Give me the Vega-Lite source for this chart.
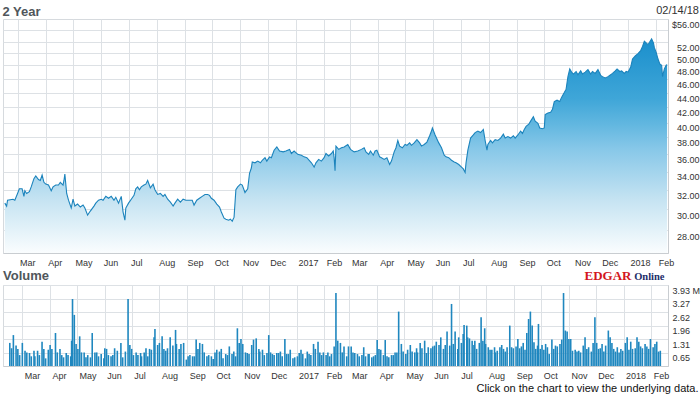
{
"$schema": "https://vega.github.io/schema/vega-lite/v6.json",
"background": "white",
"padding": {"left": 2, "top": 4, "right": 0, "bottom": 0},
"config": {
  "font": "Liberation Sans",
  "view": {"stroke": "#d6dade", "strokeWidth": 1},
  "axis": {"labelFont": "Liberation Sans", "labelFontSize": 9, "labelColor": "#333333", "gridColor": "#dde1e5", "gridOpacity": 1, "domainColor": "#c9cdd1", "ticks": false, "title": null, "labelOverlap": false},
  "title": {"font": "Liberation Sans"}
},
"title": {"text": "2 Year", "anchor": "start", "fontSize": 13, "fontWeight": "bold", "color": "#50565b", "dy": 14, "offset": 0},
"spacing": 0,
"datasets": {
"price": [
{"date":"2016-02-16","close":31.2},{"date":"2016-02-18","close":30.9},{"date":"2016-02-19","close":31.5},{"date":"2016-02-25","close":31.6},{"date":"2016-02-27","close":31.5},
{"date":"2016-03-01","close":32.2},{"date":"2016-03-03","close":32.7},{"date":"2016-03-06","close":32.7},{"date":"2016-03-08","close":31.9},{"date":"2016-03-09","close":32.5},{"date":"2016-03-11","close":32.2},{"date":"2016-03-14","close":32.4},{"date":"2016-03-16","close":32.9},{"date":"2016-03-19","close":33.8},{"date":"2016-03-21","close":34.1},{"date":"2016-03-24","close":33.7},{"date":"2016-03-26","close":33.6},{"date":"2016-03-28","close":34.2},{"date":"2016-03-30","close":33.4},
{"date":"2016-04-01","close":33.2},{"date":"2016-04-04","close":33.1},{"date":"2016-04-07","close":32.5},{"date":"2016-04-09","close":32.9},{"date":"2016-04-12","close":33.1},{"date":"2016-04-15","close":33.1},{"date":"2016-04-17","close":33.4},{"date":"2016-04-20","close":33.1},{"date":"2016-04-21","close":33.6},{"date":"2016-04-22","close":34.3},{"date":"2016-04-24","close":32.2},{"date":"2016-04-26","close":31.5},{"date":"2016-04-29","close":30.7},
{"date":"2016-05-01","close":31.6},{"date":"2016-05-03","close":30.9},{"date":"2016-05-06","close":31.1},{"date":"2016-05-09","close":30.8},{"date":"2016-05-12","close":31.0},{"date":"2016-05-14","close":30.7},{"date":"2016-05-17","close":30.0},{"date":"2016-05-20","close":30.4},{"date":"2016-05-24","close":30.9},{"date":"2016-05-26","close":31.2},{"date":"2016-05-29","close":31.5},
{"date":"2016-06-01","close":31.6},{"date":"2016-06-03","close":31.5},{"date":"2016-06-06","close":31.9},{"date":"2016-06-09","close":31.7},{"date":"2016-06-12","close":31.9},{"date":"2016-06-15","close":31.5},{"date":"2016-06-17","close":31.8},{"date":"2016-06-20","close":31.2},{"date":"2016-06-23","close":31.9},{"date":"2016-06-25","close":30.3},{"date":"2016-06-27","close":29.5},{"date":"2016-06-28","close":30.7},
{"date":"2016-07-01","close":31.2},{"date":"2016-07-04","close":31.6},{"date":"2016-07-07","close":32.0},{"date":"2016-07-09","close":32.7},{"date":"2016-07-11","close":32.9},{"date":"2016-07-13","close":32.6},{"date":"2016-07-15","close":32.9},{"date":"2016-07-18","close":33.1},{"date":"2016-07-20","close":33.2},{"date":"2016-07-22","close":33.6},{"date":"2016-07-25","close":32.8},{"date":"2016-07-28","close":33.2},{"date":"2016-07-30","close":32.6},
{"date":"2016-08-02","close":32.1},{"date":"2016-08-05","close":32.2},{"date":"2016-08-08","close":31.9},{"date":"2016-08-10","close":32.1},{"date":"2016-08-13","close":31.6},{"date":"2016-08-16","close":31.3},{"date":"2016-08-19","close":30.9},{"date":"2016-08-21","close":31.2},{"date":"2016-08-24","close":31.6},{"date":"2016-08-27","close":31.3},{"date":"2016-08-30","close":31.6},
{"date":"2016-09-02","close":31.5},{"date":"2016-09-06","close":31.5},{"date":"2016-09-09","close":31.5},{"date":"2016-09-11","close":31.0},{"date":"2016-09-14","close":31.5},{"date":"2016-09-17","close":31.7},{"date":"2016-09-20","close":31.9},{"date":"2016-09-23","close":32.1},{"date":"2016-09-26","close":32.1},{"date":"2016-09-28","close":32.0},{"date":"2016-09-30","close":31.7},
{"date":"2016-10-03","close":31.5},{"date":"2016-10-06","close":31.1},{"date":"2016-10-09","close":30.8},{"date":"2016-10-11","close":30.3},{"date":"2016-10-14","close":29.7},{"date":"2016-10-16","close":29.6},{"date":"2016-10-19","close":29.5},{"date":"2016-10-21","close":29.6},{"date":"2016-10-23","close":29.4},{"date":"2016-10-25","close":29.8},{"date":"2016-10-27","close":32.6},{"date":"2016-10-29","close":32.9},
{"date":"2016-11-01","close":33.2},{"date":"2016-11-03","close":33.1},{"date":"2016-11-06","close":32.3},{"date":"2016-11-09","close":32.7},{"date":"2016-11-11","close":34.4},{"date":"2016-11-13","close":35.0},{"date":"2016-11-14","close":35.7},{"date":"2016-11-17","close":35.6},{"date":"2016-11-20","close":35.8},{"date":"2016-11-23","close":35.6},{"date":"2016-11-25","close":35.9},{"date":"2016-11-28","close":36.2},{"date":"2016-11-30","close":35.8},
{"date":"2016-12-03","close":36.3},{"date":"2016-12-05","close":36.2},{"date":"2016-12-08","close":37.1},{"date":"2016-12-11","close":37.5},{"date":"2016-12-14","close":37.0},{"date":"2016-12-18","close":36.9},{"date":"2016-12-21","close":37.0},{"date":"2016-12-25","close":37.2},{"date":"2016-12-27","close":36.7},{"date":"2016-12-30","close":37.0},
{"date":"2017-01-03","close":36.6},{"date":"2017-01-07","close":36.5},{"date":"2017-01-10","close":36.3},{"date":"2017-01-13","close":36.2},{"date":"2017-01-18","close":35.6},{"date":"2017-01-21","close":35.1},{"date":"2017-01-23","close":35.6},{"date":"2017-01-26","close":36.0},{"date":"2017-01-29","close":35.8},
{"date":"2017-02-01","close":36.2},{"date":"2017-02-03","close":36.7},{"date":"2017-02-06","close":36.4},{"date":"2017-02-09","close":36.7},{"date":"2017-02-11","close":37.0},{"date":"2017-02-12","close":36.2},{"date":"2017-02-13","close":34.7},{"date":"2017-02-14","close":37.6},{"date":"2017-02-17","close":37.2},{"date":"2017-02-20","close":37.4},{"date":"2017-02-23","close":37.5},{"date":"2017-02-27","close":37.8},
{"date":"2017-03-02","close":37.2},{"date":"2017-03-06","close":36.9},{"date":"2017-03-10","close":37.0},{"date":"2017-03-14","close":37.2},{"date":"2017-03-17","close":37.4},{"date":"2017-03-19","close":36.9},{"date":"2017-03-22","close":36.6},{"date":"2017-03-24","close":37.0},{"date":"2017-03-27","close":36.5},{"date":"2017-03-29","close":37.0},{"date":"2017-03-31","close":37.1},
{"date":"2017-04-03","close":36.3},{"date":"2017-04-05","close":36.2},{"date":"2017-04-08","close":36.0},{"date":"2017-04-11","close":36.2},{"date":"2017-04-14","close":35.4},{"date":"2017-04-16","close":35.8},{"date":"2017-04-19","close":36.9},{"date":"2017-04-21","close":37.4},{"date":"2017-04-23","close":38.3},{"date":"2017-04-25","close":37.6},{"date":"2017-04-28","close":37.4},
{"date":"2017-05-01","close":37.8},{"date":"2017-05-03","close":37.7},{"date":"2017-05-06","close":38.0},{"date":"2017-05-08","close":37.7},{"date":"2017-05-11","close":38.0},{"date":"2017-05-14","close":38.4},{"date":"2017-05-17","close":38.0},{"date":"2017-05-19","close":37.6},{"date":"2017-05-22","close":37.8},{"date":"2017-05-25","close":38.1},{"date":"2017-05-28","close":38.9},{"date":"2017-05-30","close":39.5},{"date":"2017-05-31","close":39.9},
{"date":"2017-06-03","close":39.0},{"date":"2017-06-07","close":38.0},{"date":"2017-06-10","close":37.4},{"date":"2017-06-13","close":36.5},{"date":"2017-06-15","close":36.3},{"date":"2017-06-18","close":36.2},{"date":"2017-06-21","close":35.9},{"date":"2017-06-24","close":35.7},{"date":"2017-06-26","close":35.6},{"date":"2017-06-29","close":35.4},
{"date":"2017-07-02","close":35.1},{"date":"2017-07-04","close":34.9},{"date":"2017-07-06","close":34.5},{"date":"2017-07-07","close":35.6},{"date":"2017-07-09","close":37.1},{"date":"2017-07-12","close":38.6},{"date":"2017-07-15","close":39.0},{"date":"2017-07-17","close":39.3},{"date":"2017-07-20","close":39.5},{"date":"2017-07-23","close":39.3},{"date":"2017-07-26","close":39.7},{"date":"2017-07-28","close":38.3},{"date":"2017-07-30","close":37.1},{"date":"2017-07-31","close":37.8},
{"date":"2017-08-03","close":38.3},{"date":"2017-08-05","close":38.0},{"date":"2017-08-08","close":38.4},{"date":"2017-08-11","close":38.3},{"date":"2017-08-14","close":38.6},{"date":"2017-08-17","close":39.1},{"date":"2017-08-19","close":38.6},{"date":"2017-08-22","close":38.8},{"date":"2017-08-25","close":38.6},{"date":"2017-08-28","close":38.9},{"date":"2017-08-30","close":38.6},
{"date":"2017-09-02","close":39.0},{"date":"2017-09-05","close":39.5},{"date":"2017-09-07","close":39.2},{"date":"2017-09-09","close":39.7},{"date":"2017-09-11","close":40.1},{"date":"2017-09-14","close":40.4},{"date":"2017-09-16","close":40.8},{"date":"2017-09-19","close":41.4},{"date":"2017-09-21","close":40.8},{"date":"2017-09-24","close":40.5},{"date":"2017-09-26","close":39.9},{"date":"2017-09-29","close":39.8},
{"date":"2017-10-01","close":39.9},{"date":"2017-10-02","close":41.7},{"date":"2017-10-05","close":41.9},{"date":"2017-10-08","close":42.0},{"date":"2017-10-10","close":42.4},{"date":"2017-10-12","close":43.5},{"date":"2017-10-15","close":43.7},{"date":"2017-10-18","close":43.5},{"date":"2017-10-20","close":44.1},{"date":"2017-10-23","close":44.8},{"date":"2017-10-25","close":45.3},{"date":"2017-10-27","close":47.2},{"date":"2017-10-29","close":48.4},{"date":"2017-10-31","close":47.9},
{"date":"2017-11-02","close":47.6},{"date":"2017-11-05","close":48.0},{"date":"2017-11-07","close":47.5},{"date":"2017-11-10","close":48.1},{"date":"2017-11-12","close":47.6},{"date":"2017-11-15","close":47.9},{"date":"2017-11-18","close":48.3},{"date":"2017-11-21","close":47.6},{"date":"2017-11-23","close":48.0},{"date":"2017-11-26","close":47.7},{"date":"2017-11-29","close":48.3},
{"date":"2017-12-02","close":47.4},{"date":"2017-12-04","close":47.2},{"date":"2017-12-07","close":47.0},{"date":"2017-12-10","close":47.2},{"date":"2017-12-13","close":47.5},{"date":"2017-12-15","close":47.7},{"date":"2017-12-18","close":48.1},{"date":"2017-12-20","close":48.4},{"date":"2017-12-23","close":48.0},{"date":"2017-12-25","close":48.1},{"date":"2017-12-28","close":47.7},{"date":"2017-12-30","close":48.0},
{"date":"2018-01-01","close":47.9},{"date":"2018-01-04","close":48.7},{"date":"2018-01-06","close":50.0},{"date":"2018-01-09","close":50.5},{"date":"2018-01-12","close":50.9},{"date":"2018-01-15","close":51.4},{"date":"2018-01-17","close":52.1},{"date":"2018-01-19","close":53.0},{"date":"2018-01-21","close":52.7},{"date":"2018-01-23","close":52.4},{"date":"2018-01-25","close":52.9},{"date":"2018-01-27","close":53.4},{"date":"2018-01-29","close":52.7},{"date":"2018-01-30","close":51.9},
{"date":"2018-02-01","close":51.1},{"date":"2018-02-03","close":50.0},{"date":"2018-02-05","close":49.2},{"date":"2018-02-07","close":49.0},{"date":"2018-02-08","close":47.2},{"date":"2018-02-10","close":48.4},{"date":"2018-02-12","close":49.0},{"date":"2018-02-13","close":49.1}
],
"volume": [
{"date":"2016-02-16","volume":1.12},{"date":"2016-02-18","volume":0.86},{"date":"2016-02-20","volume":1.50},{"date":"2016-02-23","volume":0.99},{"date":"2016-02-25","volume":0.83},{"date":"2016-02-27","volume":0.53},
{"date":"2016-03-01","volume":1.12},{"date":"2016-03-04","volume":0.74},{"date":"2016-03-06","volume":0.66},{"date":"2016-03-09","volume":0.63},{"date":"2016-03-11","volume":0.47},{"date":"2016-03-14","volume":0.74},{"date":"2016-03-15","volume":0.47},{"date":"2016-03-18","volume":0.74},{"date":"2016-03-20","volume":0.53},{"date":"2016-03-23","volume":1.18},{"date":"2016-03-25","volume":0.83},{"date":"2016-03-27","volume":0.37},{"date":"2016-03-30","volume":0.79},
{"date":"2016-04-01","volume":1.02},{"date":"2016-04-03","volume":0.83},{"date":"2016-04-07","volume":1.60},{"date":"2016-04-09","volume":0.66},{"date":"2016-04-12","volume":0.83},{"date":"2016-04-14","volume":0.53},{"date":"2016-04-16","volume":0.42},{"date":"2016-04-19","volume":0.63},{"date":"2016-04-21","volume":0.53},{"date":"2016-04-24","volume":0.47},{"date":"2016-04-25","volume":1.23},{"date":"2016-04-26","volume":3.25},{"date":"2016-04-28","volume":2.48},{"date":"2016-04-30","volume":1.07},
{"date":"2016-05-02","volume":0.83},{"date":"2016-05-04","volume":1.44},{"date":"2016-05-06","volume":0.66},{"date":"2016-05-09","volume":0.66},{"date":"2016-05-11","volume":0.42},{"date":"2016-05-13","volume":0.53},{"date":"2016-05-16","volume":0.42},{"date":"2016-05-18","volume":1.60},{"date":"2016-05-21","volume":0.66},{"date":"2016-05-23","volume":0.66},{"date":"2016-05-25","volume":0.47},{"date":"2016-05-28","volume":0.58},{"date":"2016-05-31","volume":0.37},
{"date":"2016-06-01","volume":0.86},{"date":"2016-06-03","volume":0.83},{"date":"2016-06-05","volume":0.53},{"date":"2016-06-08","volume":0.47},{"date":"2016-06-10","volume":0.53},{"date":"2016-06-12","volume":0.86},{"date":"2016-06-15","volume":0.74},{"date":"2016-06-19","volume":1.12},{"date":"2016-06-21","volume":0.42},{"date":"2016-06-24","volume":0.70},{"date":"2016-06-27","volume":3.25},{"date":"2016-06-29","volume":1.02},
{"date":"2016-07-01","volume":0.83},{"date":"2016-07-03","volume":0.53},{"date":"2016-07-06","volume":0.66},{"date":"2016-07-08","volume":0.53},{"date":"2016-07-11","volume":0.63},{"date":"2016-07-12","volume":0.47},{"date":"2016-07-15","volume":0.66},{"date":"2016-07-17","volume":0.86},{"date":"2016-07-19","volume":0.47},{"date":"2016-07-21","volume":0.83},{"date":"2016-07-23","volume":0.79},{"date":"2016-07-26","volume":1.39},{"date":"2016-07-27","volume":1.80},{"date":"2016-07-30","volume":1.02},
{"date":"2016-08-01","volume":1.12},{"date":"2016-08-04","volume":1.44},{"date":"2016-08-06","volume":0.83},{"date":"2016-08-08","volume":0.74},{"date":"2016-08-10","volume":0.86},{"date":"2016-08-13","volume":1.39},{"date":"2016-08-16","volume":0.99},{"date":"2016-08-19","volume":1.75},{"date":"2016-08-20","volume":1.07},{"date":"2016-08-23","volume":0.83},{"date":"2016-08-25","volume":1.07},{"date":"2016-08-28","volume":1.12},{"date":"2016-08-31","volume":0.31},
{"date":"2016-09-02","volume":0.47},{"date":"2016-09-04","volume":0.53},{"date":"2016-09-07","volume":0.47},{"date":"2016-09-09","volume":0.47},{"date":"2016-09-11","volume":1.28},{"date":"2016-09-13","volume":0.83},{"date":"2016-09-15","volume":1.12},{"date":"2016-09-18","volume":1.07},{"date":"2016-09-20","volume":0.66},{"date":"2016-09-23","volume":0.47},{"date":"2016-09-25","volume":0.53},{"date":"2016-09-28","volume":0.47},{"date":"2016-09-30","volume":0.34},
{"date":"2016-10-02","volume":0.66},{"date":"2016-10-04","volume":0.79},{"date":"2016-10-07","volume":0.70},{"date":"2016-10-09","volume":0.83},{"date":"2016-10-11","volume":0.37},{"date":"2016-10-14","volume":0.58},{"date":"2016-10-16","volume":0.53},{"date":"2016-10-18","volume":0.95},{"date":"2016-10-21","volume":0.58},{"date":"2016-10-23","volume":0.70},{"date":"2016-10-25","volume":0.47},{"date":"2016-10-27","volume":1.83},{"date":"2016-10-29","volume":1.12},{"date":"2016-10-31","volume":1.31},
{"date":"2016-11-02","volume":1.07},{"date":"2016-11-05","volume":0.66},{"date":"2016-11-07","volume":0.63},{"date":"2016-11-09","volume":0.58},{"date":"2016-11-12","volume":1.02},{"date":"2016-11-14","volume":1.28},{"date":"2016-11-17","volume":1.34},{"date":"2016-11-20","volume":0.83},{"date":"2016-11-21","volume":0.70},{"date":"2016-11-24","volume":0.79},{"date":"2016-11-26","volume":0.53},{"date":"2016-11-29","volume":0.63},
{"date":"2016-12-01","volume":1.50},{"date":"2016-12-03","volume":0.66},{"date":"2016-12-05","volume":0.58},{"date":"2016-12-07","volume":0.53},{"date":"2016-12-10","volume":0.63},{"date":"2016-12-12","volume":0.63},{"date":"2016-12-14","volume":0.70},{"date":"2016-12-16","volume":0.47},{"date":"2016-12-19","volume":1.31},{"date":"2016-12-21","volume":0.58},{"date":"2016-12-23","volume":0.58},{"date":"2016-12-25","volume":0.79},{"date":"2016-12-28","volume":0.37},{"date":"2016-12-30","volume":0.42},
{"date":"2017-01-02","volume":0.47},{"date":"2017-01-04","volume":0.63},{"date":"2017-01-06","volume":0.79},{"date":"2017-01-08","volume":0.58},{"date":"2017-01-11","volume":0.37},{"date":"2017-01-13","volume":0.70},{"date":"2017-01-15","volume":0.58},{"date":"2017-01-17","volume":0.53},{"date":"2017-01-20","volume":1.07},{"date":"2017-01-22","volume":0.83},{"date":"2017-01-25","volume":1.18},{"date":"2017-01-27","volume":0.66},{"date":"2017-01-29","volume":0.53},{"date":"2017-01-31","volume":0.66},
{"date":"2017-02-03","volume":0.53},{"date":"2017-02-05","volume":0.66},{"date":"2017-02-07","volume":0.47},{"date":"2017-02-09","volume":0.58},{"date":"2017-02-12","volume":0.95},{"date":"2017-02-14","volume":3.54},{"date":"2017-02-16","volume":1.23},{"date":"2017-02-19","volume":1.12},{"date":"2017-02-21","volume":0.66},{"date":"2017-02-23","volume":0.95},{"date":"2017-02-26","volume":0.47},{"date":"2017-02-28","volume":0.95},
{"date":"2017-03-03","volume":0.95},{"date":"2017-03-05","volume":0.66},{"date":"2017-03-07","volume":0.63},{"date":"2017-03-10","volume":0.58},{"date":"2017-03-12","volume":0.47},{"date":"2017-03-15","volume":0.53},{"date":"2017-03-17","volume":0.91},{"date":"2017-03-19","volume":0.47},{"date":"2017-03-22","volume":0.58},{"date":"2017-03-23","volume":0.58},{"date":"2017-03-26","volume":0.42},{"date":"2017-03-28","volume":0.47},{"date":"2017-03-30","volume":0.53},
{"date":"2017-04-01","volume":1.26},{"date":"2017-04-03","volume":0.83},{"date":"2017-04-05","volume":0.79},{"date":"2017-04-08","volume":0.53},{"date":"2017-04-10","volume":1.26},{"date":"2017-04-12","volume":0.47},{"date":"2017-04-14","volume":0.42},{"date":"2017-04-17","volume":0.53},{"date":"2017-04-19","volume":0.53},{"date":"2017-04-21","volume":0.66},{"date":"2017-04-23","volume":0.66},{"date":"2017-04-25","volume":2.64},{"date":"2017-04-28","volume":1.07},{"date":"2017-04-30","volume":0.70},
{"date":"2017-05-03","volume":0.58},{"date":"2017-05-05","volume":0.79},{"date":"2017-05-08","volume":1.02},{"date":"2017-05-10","volume":0.70},{"date":"2017-05-13","volume":0.66},{"date":"2017-05-15","volume":0.86},{"date":"2017-05-16","volume":0.66},{"date":"2017-05-19","volume":1.12},{"date":"2017-05-21","volume":0.86},{"date":"2017-05-24","volume":1.23},{"date":"2017-05-26","volume":0.63},{"date":"2017-05-28","volume":0.91},{"date":"2017-05-31","volume":0.86},
{"date":"2017-06-02","volume":0.95},{"date":"2017-06-04","volume":0.99},{"date":"2017-06-06","volume":1.18},{"date":"2017-06-09","volume":1.02},{"date":"2017-06-11","volume":1.39},{"date":"2017-06-14","volume":0.83},{"date":"2017-06-16","volume":1.02},{"date":"2017-06-18","volume":1.67},{"date":"2017-06-21","volume":0.99},{"date":"2017-06-23","volume":3.01},{"date":"2017-06-25","volume":1.07},{"date":"2017-06-27","volume":1.67},{"date":"2017-06-30","volume":0.83},
{"date":"2017-07-01","volume":1.39},{"date":"2017-07-04","volume":1.12},{"date":"2017-07-06","volume":1.55},{"date":"2017-07-07","volume":1.99},{"date":"2017-07-10","volume":1.96},{"date":"2017-07-11","volume":1.39},{"date":"2017-07-13","volume":1.34},{"date":"2017-07-16","volume":1.23},{"date":"2017-07-18","volume":1.02},{"date":"2017-07-19","volume":1.23},{"date":"2017-07-21","volume":0.83},{"date":"2017-07-24","volume":1.12},{"date":"2017-07-26","volume":2.36},{"date":"2017-07-28","volume":1.23},{"date":"2017-07-30","volume":1.83},{"date":"2017-07-31","volume":1.07},
{"date":"2017-08-03","volume":0.91},{"date":"2017-08-05","volume":0.79},{"date":"2017-08-07","volume":0.79},{"date":"2017-08-10","volume":0.91},{"date":"2017-08-11","volume":0.66},{"date":"2017-08-13","volume":0.74},{"date":"2017-08-16","volume":0.91},{"date":"2017-08-18","volume":1.02},{"date":"2017-08-20","volume":0.83},{"date":"2017-08-22","volume":0.70},{"date":"2017-08-24","volume":0.91},{"date":"2017-08-27","volume":1.96},{"date":"2017-08-29","volume":0.91},{"date":"2017-08-31","volume":0.86},
{"date":"2017-09-03","volume":0.95},{"date":"2017-09-05","volume":1.31},{"date":"2017-09-07","volume":0.86},{"date":"2017-09-09","volume":0.95},{"date":"2017-09-11","volume":1.12},{"date":"2017-09-13","volume":0.79},{"date":"2017-09-15","volume":1.60},{"date":"2017-09-17","volume":2.28},{"date":"2017-09-19","volume":2.64},{"date":"2017-09-21","volume":1.96},{"date":"2017-09-23","volume":1.15},{"date":"2017-09-25","volume":0.83},{"date":"2017-09-27","volume":0.99},{"date":"2017-09-28","volume":2.04},{"date":"2017-09-30","volume":0.83},
{"date":"2017-10-02","volume":1.02},{"date":"2017-10-04","volume":0.79},{"date":"2017-10-06","volume":1.07},{"date":"2017-10-08","volume":0.91},{"date":"2017-10-10","volume":0.58},{"date":"2017-10-13","volume":1.28},{"date":"2017-10-15","volume":0.83},{"date":"2017-10-17","volume":0.99},{"date":"2017-10-19","volume":0.95},{"date":"2017-10-22","volume":1.07},{"date":"2017-10-24","volume":1.28},{"date":"2017-10-26","volume":3.54},{"date":"2017-10-28","volume":1.72},{"date":"2017-10-30","volume":1.67},
{"date":"2017-11-01","volume":1.31},{"date":"2017-11-03","volume":1.31},{"date":"2017-11-05","volume":0.74},{"date":"2017-11-08","volume":0.79},{"date":"2017-11-10","volume":0.70},{"date":"2017-11-12","volume":0.74},{"date":"2017-11-14","volume":0.66},{"date":"2017-11-17","volume":0.99},{"date":"2017-11-19","volume":1.39},{"date":"2017-11-21","volume":0.83},{"date":"2017-11-23","volume":0.91},{"date":"2017-11-26","volume":0.70},{"date":"2017-11-28","volume":1.12},{"date":"2017-11-30","volume":2.36},
{"date":"2017-12-02","volume":1.12},{"date":"2017-12-04","volume":0.83},{"date":"2017-12-06","volume":0.86},{"date":"2017-12-08","volume":1.07},{"date":"2017-12-10","volume":0.70},{"date":"2017-12-12","volume":0.99},{"date":"2017-12-15","volume":1.72},{"date":"2017-12-17","volume":1.39},{"date":"2017-12-19","volume":1.12},{"date":"2017-12-21","volume":0.83},{"date":"2017-12-23","volume":0.70},{"date":"2017-12-25","volume":0.91},{"date":"2017-12-27","volume":0.66},{"date":"2017-12-29","volume":0.83},{"date":"2017-12-31","volume":0.74},
{"date":"2018-01-03","volume":1.12},{"date":"2018-01-05","volume":1.39},{"date":"2018-01-07","volume":0.79},{"date":"2018-01-09","volume":1.18},{"date":"2018-01-11","volume":0.83},{"date":"2018-01-14","volume":0.86},{"date":"2018-01-16","volume":1.39},{"date":"2018-01-18","volume":1.18},{"date":"2018-01-20","volume":0.95},{"date":"2018-01-22","volume":0.86},{"date":"2018-01-25","volume":1.07},{"date":"2018-01-27","volume":0.95},{"date":"2018-01-29","volume":0.83},{"date":"2018-01-31","volume":1.31},
{"date":"2018-02-03","volume":0.91},{"date":"2018-02-05","volume":1.07},{"date":"2018-02-07","volume":1.18},{"date":"2018-02-09","volume":0.70},{"date":"2018-02-11","volume":0.74}
]
},
"vconcat": [
{
  "width": 665, "height": 234,
  "title": {"text": "02/14/18", "anchor": "end", "frame": "bounds", "fontSize": 11, "fontWeight": "normal", "color": "#333333", "offset": 3},
  "data": {"name": "price"},
  "encoding": {
    "x": {"field": "date", "type": "temporal",
      "scale": {"type": "utc", "domain": [{"year": 2016, "month": 2, "date": 14, "utc": true}, {"year": 2018, "month": 2, "date": 14, "utc": true}]},
      "axis": {"tickCount": {"interval": "month", "step": 1}, "grid": true, "labelAlign": "left", "labelOffset": 2, "labelPadding": 5, "labelFlush": false, "labelOverlap": false, "domain": true,
        "labelExpr": "utcFormat(datum.value, '%m') == '01' ? utcFormat(datum.value, '%Y') : utcFormat(datum.value, '%b')"}}
  },
  "layer": [
    {"mark": {"type": "area", "line": false, "clip": true,
       "color": {"gradient": "linear", "x1": 0, "y1": 0, "x2": 0, "y2": 1,
         "stops": [{"offset": 0, "color": "#1a8fcc"}, {"offset": 0.28, "color": "#3fa6d8"}, {"offset": 0.4, "color": "#62b7e0"}, {"offset": 0.51, "color": "#86c7e8"}, {"offset": 0.75, "color": "#c5e3f2"}, {"offset": 1, "color": "#fafdfe"}]}},
     "encoding": {
       "y": {"field": "close", "type": "quantitative",
        "scale": {"type": "log", "domain": [26.5, 57], "nice": false, "zero": false},
        "axis": {"orient": "left", "values": [28.6, 30.6, 32.6, 34.6, 36.7, 38.7, 40.6, 42.7, 44.8, 46.8, 49.1, 51.0, 52.8, 54.9], "grid": true, "labels": false, "domain": false, "ticks": false}},
       "y2": {"datum": 26.5}}},
    {"mark": {"type": "line", "color": "#1b83bc", "strokeWidth": 1.1, "clip": true},
     "encoding": {"y": {"field": "close", "type": "quantitative",
        "axis": {"orient": "right", "values": [28, 30, 32, 34, 36, 38, 40, 42, 44, 46, 48, 50, 52, 56], "grid": false, "labelAlign": "right", "labelPadding": 31, "labelOverlap": false, "labelExpr": "datum.value == 56 ? '$56.00' : format(datum.value, '.2f')", "domain": true}}}}
  ],
  "resolve": {"axis": {"y": "independent"}}
},
{
  "width": 665, "height": 81,
  "title": {"text": "Volume", "anchor": "start", "fontSize": 13, "fontWeight": "bold", "color": "#50565b", "offset": 0, "dy": 14},
  "data": {"name": "volume"},
  "layer": [
    {"mark": {"type": "bar", "color": "#1f87bf", "size": 1.6},
     "encoding": {
        "x": {"field": "date", "type": "temporal",
          "scale": {"type": "utc", "domain": [{"year": 2016, "month": 2, "date": 14, "utc": true}, {"year": 2018, "month": 2, "date": 14, "utc": true}]},
          "axis": {"orient": "bottom", "tickCount": {"interval": "month", "step": 1}, "grid": true, "labelAlign": "left", "labelOffset": 2, "labelPadding": 5, "labelFlush": false, "labelOverlap": false, "domain": true,
            "labelExpr": "utcFormat(datum.value, '%m') == '01' ? utcFormat(datum.value, '%Y') : utcFormat(datum.value, '%b')",
            "title": "Click on the chart to view the underlying data.", "titleFont": "Liberation Sans", "titleFontSize": 11, "titleFontWeight": "normal", "titleColor": "#111111", "titleAlign": "right", "titleAnchor": "end", "titleX": 695, "titlePadding": 2}},
        "y": {"field": "volume", "type": "quantitative",
          "scale": {"domain": [0, 3.93], "nice": false},
          "axis": {"orient": "right", "values": [0.65, 1.31, 1.96, 2.62, 3.27, 3.93], "grid": true, "labelAlign": "left", "labelPadding": 4, "labelBaseline": "top", "labelOffset": 1, "labelOverlap": false, "labelBound": false, "labelExpr": "datum.value > 3.9 ? '3.93 M' : format(datum.value, '.2f')", "domain": true,
            "title": "Online", "titleAngle": 0, "titleFont": "Liberation Serif", "titleFontSize": 10.5, "titleFontWeight": "bold", "titleColor": "#1d2e6a", "titleAlign": "right", "titleBaseline": "alphabetic", "titleX": -4, "titleY": -6}}
     }},
    {"mark": {"type": "bar", "opacity": 0, "size": 1.6},
     "encoding": {
        "x": {"field": "date", "type": "temporal",
          "axis": {"orient": "top", "labels": false, "grid": false, "domain": false, "ticks": false,
            "title": "EDGAR", "titleFont": "Liberation Serif", "titleFontSize": 13, "titleFontWeight": "bold", "titleColor": "#d3171d", "titleAlign": "right", "titleBaseline": "alphabetic", "titleX": 628, "titleY": -6}},
        "y": {"field": "volume", "type": "quantitative",
          "axis": {"orient": "right", "values": [0.65, 1.31, 1.96, 2.62, 3.27, 3.93], "grid": true, "labelAlign": "left", "labelPadding": 4, "labelBaseline": "top", "labelOffset": 1, "labelOverlap": false, "labelBound": false, "labelExpr": "datum.value > 3.9 ? '3.93 M' : format(datum.value, '.2f')", "domain": true,
            "title": "Online", "titleAngle": 0, "titleFont": "Liberation Serif", "titleFontSize": 10.5, "titleFontWeight": "bold", "titleColor": "#1d2e6a", "titleAlign": "right", "titleBaseline": "alphabetic", "titleX": -4, "titleY": -6}}
     }}
  ],
  "resolve": {"axis": {"x": "independent"}}
}
]
}
